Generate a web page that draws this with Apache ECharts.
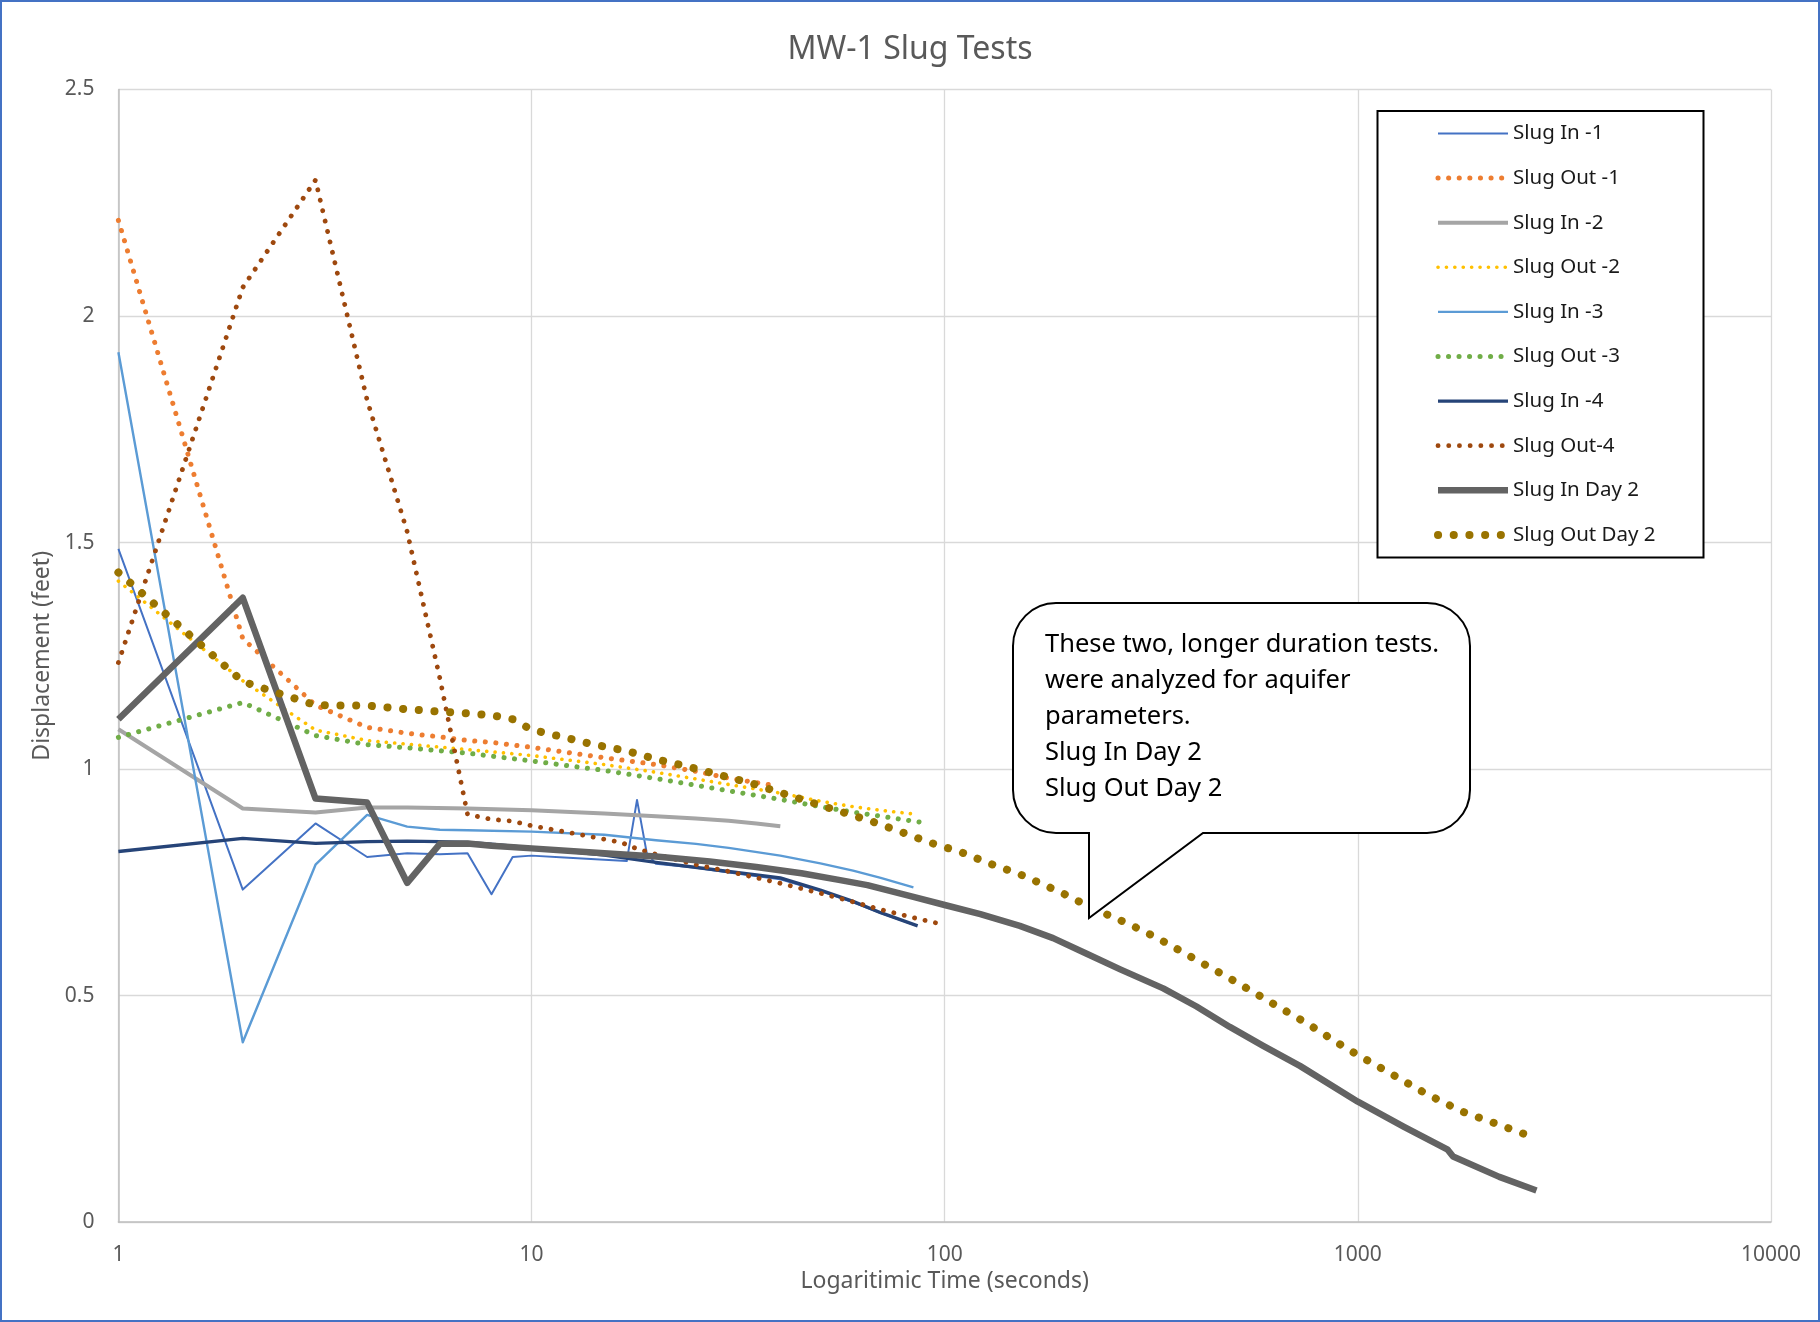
<!DOCTYPE html>
<html>
<head>
<meta charset="utf-8">
<script src="https://cdn.jsdelivr.net/npm/echarts@6/dist/echarts.min.js"></script>
<style>
html,body{margin:0;padding:0;background:#ffffff;}
#chart{width:1820px;height:1322px;}
</style>
</head>
<body>
<div id="chart"></div>
<script>
// ---------- data (time in seconds, displacement in feet) ----------
const seriesNames = ['Slug In -1','Slug Out -1','Slug In -2','Slug Out -2','Slug In -3','Slug Out -3','Slug In -4','Slug Out-4','Slug In Day 2','Slug Out Day 2'];

const slugIn1T = [1,2,3,4,5,6,7,8,9,10,12,15,17,18,19,20,25,30,40,50,60,70,85];
const slugIn1V = [1.486,0.734,0.880,0.806,0.814,0.812,0.814,0.724,0.806,0.809,0.805,0.800,0.797,0.932,0.815,0.791,0.782,0.772,0.757,0.731,0.706,0.682,0.655];

const slugOut1T = [1,2,3,4,5,6,7,8,10,15,20,25,30,38.5];
const slugOut1V = [2.211,1.288,1.141,1.092,1.079,1.071,1.063,1.059,1.048,1.025,1.010,0.995,0.980,0.964];

const slugIn2T = [1,2,3,4,5,7,10,15,20,25,30,35,40];
const slugIn2V = [1.088,0.913,0.904,0.915,0.915,0.913,0.909,0.902,0.896,0.891,0.886,0.880,0.874];

const slugOut2T = [1,2,3,4,5,7,10,15,20,30,40,50,60,70,84];
const slugOut2V = [1.415,1.195,1.086,1.063,1.055,1.043,1.030,1.010,0.993,0.966,0.947,0.929,0.917,0.909,0.901];

const slugIn3T = [1,2,3,4,5,6,7,10,15,20,25,30,40,50,60,70,84];
const slugIn3V = [1.920,0.397,0.789,0.899,0.873,0.866,0.865,0.862,0.855,0.843,0.835,0.826,0.809,0.792,0.776,0.760,0.739];

const slugOut3T = [1,2,3,4,5,7,10,15,20,30,40,50,60,70,87];
const slugOut3V = [1.070,1.147,1.074,1.054,1.047,1.035,1.018,0.997,0.979,0.952,0.933,0.917,0.905,0.896,0.883];

const slugIn4T = [1,2,3,4,5,6,7,8,10,15,20,30,40,50,60,70,86];
const slugIn4V = [0.818,0.847,0.836,0.840,0.841,0.840,0.838,0.834,0.826,0.810,0.794,0.774,0.760,0.733,0.708,0.683,0.654];

const slugOut4T = [1,2,3,4,5,6,7,8,9,10,13,16.5,18,20,25,30,40,50,60,70,85,99];
const slugOut4V = [1.235,2.063,2.300,1.814,1.524,1.200,0.900,0.889,0.885,0.875,0.856,0.838,0.824,0.812,0.789,0.774,0.748,0.726,0.707,0.690,0.671,0.657];

const slugInD2T = [1,2,3,4,5,6,7,8,10,15,20,27,35,45,55,65,84,100,122,152,183,220,266,338,407,490,590,724,1000,1290,1650,1700,2200,2706];
const slugInD2V = [1.110,1.378,0.935,0.926,0.749,0.835,0.836,0.831,0.825,0.814,0.807,0.796,0.784,0.770,0.756,0.744,0.718,0.700,0.680,0.654,0.627,0.593,0.558,0.516,0.476,0.431,0.389,0.345,0.266,0.211,0.160,0.145,0.100,0.070];

const slugOutD2T = [1,2,3,4,5,6,7,8,9,10,12,14,17,20,24,28,34,40,47,56,66,78,92,110,128,152,192,222,282,326,401,490,558,666,753,918,1000,1169,1466,1791,2166,2706];
const slugOutD2V = [1.434,1.193,1.141,1.140,1.132,1.127,1.123,1.119,1.110,1.087,1.070,1.055,1.040,1.022,1.005,0.989,0.969,0.948,0.928,0.906,0.886,0.862,0.838,0.816,0.792,0.768,0.727,0.698,0.656,0.628,0.582,0.538,0.508,0.467,0.439,0.389,0.369,0.334,0.283,0.244,0.217,0.185];

const seriesTimes = [slugIn1T, slugOut1T, slugIn2T, slugOut2T, slugIn3T, slugOut3T, slugIn4T, slugOut4T, slugInD2T, slugOutD2T];
const seriesValues = [slugIn1V, slugOut1V, slugIn2V, slugOut2V, slugIn3V, slugOut3V, slugIn4V, slugOut4V, slugInD2V, slugOutD2V];

const titleText = 'MW-1 Slug Tests';
const xAxisTitle = 'Logaritimic Time (seconds)';
const yAxisTitle = 'Displacement (feet)';
const calloutLines = ['These two, longer duration tests.', 'were analyzed for aquifer', 'parameters.', 'Slug In Day 2', 'Slug Out Day 2'];

// ---------- styles ----------
const FONT = 'Noto Sans';
const lineStyles = [
  {color:'#4472C4', width:2,   type:'solid'},
  {color:'#ED7D31', width:5,   type:[0.1,10.5]},
  {color:'#A5A5A5', width:4,   type:'solid'},
  {color:'#FFC000', width:3.6, type:[0.1,8.3]},
  {color:'#5B9BD5', width:2.4, type:'solid'},
  {color:'#70AD47', width:5,   type:[0.1,10.4]},
  {color:'#264478', width:3.4, type:'solid'},
  {color:'#9E480E', width:4.8, type:[0.1,10.6]},
  {color:'#636363', width:6.5, type:'solid'},
  {color:'#997300', width:8,   type:[0.1,15.6]}
];

const series = seriesNames.map((name, i) => ({
  name: name,
  type: 'line',
  symbol: 'none',
  showSymbol: false,
  smooth: false,
  silent: true,
  animation: false,
  data: seriesTimes[i].map((t, k) => [t, seriesValues[i][k]]),
  lineStyle: {
    color: lineStyles[i].color,
    width: lineStyles[i].width,
    type: lineStyles[i].type,
    cap: lineStyles[i].type === 'solid' ? 'butt' : 'round',
    join: 'round'
  },
  itemStyle: {color: lineStyles[i].color},
  z: 2
}));

// speech-bubble shape for the callout annotation
const CalloutShape = echarts.graphic.extendShape({
  shape: {x1: 0, y1: 0, x2: 0, y2: 0, r: 0, pl: 0, pr: 0, tx: 0, ty: 0},
  buildPath: function (ctx, s) {
    const P = Math.PI;
    ctx.moveTo(s.x1 + s.r, s.y1);
    ctx.lineTo(s.x2 - s.r, s.y1);
    ctx.arc(s.x2 - s.r, s.y1 + s.r, s.r, -P / 2, 0, false);
    ctx.lineTo(s.x2, s.y2 - s.r);
    ctx.arc(s.x2 - s.r, s.y2 - s.r, s.r, 0, P / 2, false);
    ctx.lineTo(s.pr, s.y2);
    ctx.lineTo(s.tx, s.ty);
    ctx.lineTo(s.pl, s.y2);
    ctx.lineTo(s.x1 + s.r, s.y2);
    ctx.arc(s.x1 + s.r, s.y2 - s.r, s.r, P / 2, P, false);
    ctx.lineTo(s.x1, s.y1 + s.r);
    ctx.arc(s.x1 + s.r, s.y1 + s.r, s.r, P, P * 1.5, false);
    ctx.closePath();
  }
});
echarts.graphic.registerShape('calloutBubble', CalloutShape);

const graphics = [
  {type:'rect', shape:{x:1, y:1, width:1818, height:1320}, style:{fill:'none', stroke:'#4472C4', lineWidth:2}, z:1, silent:true},
  {type:'rect', shape:{x:1377.5, y:111, width:326, height:446.5}, style:{fill:'#ffffff', stroke:'#000000', lineWidth:2}, z:3, silent:true},
  {type:'calloutBubble', shape:{x1:1013, y1:603, x2:1470, y2:833, r:43, pl:1089, pr:1203, tx:1089, ty:918},
   style:{fill:'#ffffff', stroke:'#000000', lineWidth:2}, z:50, silent:true}
];
calloutLines.forEach((txt, i) => {
  graphics.push({
    type:'text', x:1045, y:644.5 + i * 36, z:51, silent:true,
    style:{text: txt, fill:'#000000', fontFamily: FONT, fontSize: 25.5, align:'left', verticalAlign:'middle'}
  });
});

const chart = echarts.init(document.getElementById('chart'), null, {renderer:'canvas'});
chart.setOption({
  animation: false,
  backgroundColor: '#ffffff',
  title: {
    text: titleText, left: 'center', top: 33.5, padding: 0,
    textStyle: {fontFamily: FONT, fontSize: 32, fontWeight: 'normal', color: '#595959'}
  },
  grid: {left: 118.4, right: 49, top: 89.4, bottom: 99.8},
  xAxis: {
    type: 'log', logBase: 10, min: 1, max: 10000,
    name: xAxisTitle, nameLocation: 'middle', nameGap: 47,
    nameTextStyle: {fontFamily: FONT, fontSize: 23, color: '#595959'},
    axisLine: {show: true, onZero: false, lineStyle: {color: '#BFBFBF', width: 1.5}},
    axisTick: {show: false},
    axisLabel: {fontFamily: FONT, fontSize: 21, color: '#595959', margin: 22, showMinLabel: true, showMaxLabel: true,
      formatter: function (v) { return String(Math.round(v)); }},
    splitLine: {show: true, lineStyle: {color: '#D9D9D9', width: 1.3}}
  },
  yAxis: {
    type: 'value', min: 0, max: 2.5, interval: 0.5,
    name: yAxisTitle, nameLocation: 'middle', nameGap: 64, nameRotate: 90,
    nameTextStyle: {fontFamily: FONT, fontSize: 23, color: '#595959'},
    axisLine: {show: true, onZero: false, lineStyle: {color: '#BFBFBF', width: 1.5}},
    axisTick: {show: false},
    axisLabel: {fontFamily: FONT, fontSize: 21, color: '#595959', margin: 24},
    splitLine: {show: true, lineStyle: {color: '#D9D9D9', width: 1.3}}
  },
  legend: {
    show: true, orient: 'vertical', left: 1434, top: 121.5, padding: 0,
    itemWidth: 70, itemHeight: 14, itemGap: 20.6,
    selectedMode: false,
    data: seriesNames,
    itemStyle: {opacity: 0},
    lineStyle: {width: 'inherit'},
    textStyle: {fontFamily: FONT, fontSize: 20.5, color: '#1a1a1a', lineHeight: 24},
    z: 10
  },
  graphic: {elements: graphics},
  series: series
});
</script>
</body>
</html>
